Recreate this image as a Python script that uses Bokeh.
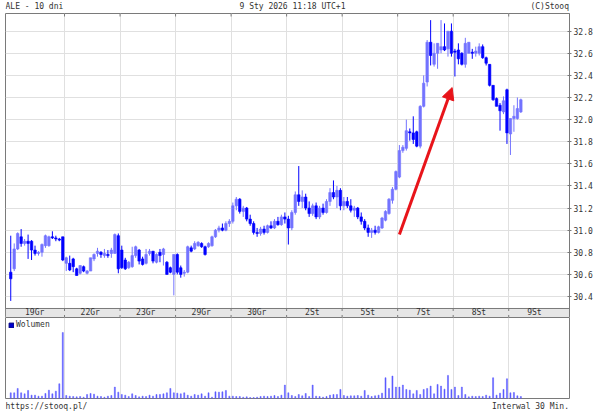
from bokeh.plotting import figure
from bokeh.models import (ColumnDataSource, Range1d, LinearAxis, FixedTicker, Grid,
                          Arrow, NormalHead, Legend, LegendItem, PrintfTickFormatter)
from bokeh.layouts import column
from bokeh.embed import file_html
from bokeh.resources import INLINE
from bokeh.core.properties import value

FONT = "DejaVu Sans Mono"
TXT = "#333333"
FRAME = "#7a7a7a"
GRIDC = "#e0e0e0"
UP = "#7373ff"
DOWN = "#0000ff"
VOLC = "#5a5aff"
RED = "#e8141a"

title_left = "ALE - 10 dni"
title_mid = "9 Sty 2026 11:18 UTC+1"
title_right = "(C)Stooq"
footer_left = "https://stooq.pl/"
footer_right = "Interwal 30 Min."
volume_label = "Wolumen"

day_labels = ["19Gr", "22Gr", "23Gr", "29Gr", "30Gr", "2St", "5St", "7St", "8St", "9St"]
bars_per_day = [16, 16, 16, 16, 16, 16, 16, 16, 16, 4]
price_ticks = [30.4, 30.6, 30.8, 31.0, 31.2, 31.4, 31.6, 31.8, 32.0, 32.2, 32.4, 32.6, 32.8]

open_ = [
    30.62, 30.65, 30.83, 30.94, 30.88, 30.90, 30.90, 30.82, 30.79, 30.80, 30.86, 30.86, 30.94, 30.93, 30.92, 30.94,
    30.70, 30.70, 30.74, 30.65, 30.61, 30.67, 30.61, 30.63, 30.74, 30.79, 30.80, 30.77, 30.78, 30.79, 30.79, 30.95,
    30.82, 30.73, 30.66, 30.67, 30.77, 30.82, 30.74, 30.70, 30.79, 30.81, 30.71, 30.80, 30.78, 30.71, 30.66, 30.60,
    30.78, 30.66, 30.61, 30.62, 30.84, 30.83, 30.86, 30.88, 30.85, 30.85, 30.86, 30.94, 31.00, 31.02, 31.00, 31.06,
    31.08, 31.22, 31.28, 31.17, 31.20, 31.10, 31.06, 30.98, 30.97, 31.01, 30.98, 31.04, 31.02, 31.08, 31.05, 31.12,
    31.10, 31.02, 31.16, 31.32, 31.26, 31.30, 31.20, 31.15, 31.22, 31.12, 31.20, 31.16, 31.26, 31.34, 31.30, 31.36,
    31.22, 31.26, 31.22, 31.18, 31.20, 31.12, 31.08, 31.02, 30.98, 31.00, 30.98, 31.02, 31.09, 31.15, 31.27, 31.37,
    31.48, 31.72, 31.74, 31.89, 31.88, 31.89, 31.76, 32.12, 32.34, 32.70, 32.50, 32.60, 32.63, 32.66, 32.64, 32.80,
    32.62, 32.63, 32.60, 32.50, 32.60, 32.61, 32.60, 32.60, 32.66, 32.56, 32.50, 32.31, 32.19, 32.13, 32.07, 32.27,
    31.87, 32.01, 32.01, 32.07]
high = [
    30.95, 30.88, 30.98, 31.01, 30.92, 30.96, 30.91, 30.86, 30.81, 30.88, 30.96, 30.95, 30.99, 30.95, 30.93, 30.94,
    30.76, 30.77, 30.75, 30.66, 30.68, 30.68, 30.64, 30.75, 30.79, 30.84, 30.81, 30.83, 30.82, 30.84, 30.97, 30.97,
    30.86, 30.75, 30.72, 30.85, 30.86, 30.83, 30.76, 30.83, 30.83, 30.81, 30.79, 30.83, 30.84, 30.72, 30.67, 30.78,
    30.79, 30.68, 30.64, 30.86, 30.86, 30.90, 30.90, 30.89, 30.86, 30.89, 30.95, 31.01, 31.04, 31.06, 31.08, 31.10,
    31.25, 31.30, 31.29, 31.22, 31.21, 31.14, 31.08, 31.02, 31.03, 31.04, 31.05, 31.08, 31.10, 31.12, 31.14, 31.16,
    31.13, 31.18, 31.35, 31.58, 31.36, 31.33, 31.26, 31.24, 31.25, 31.22, 31.24, 31.28, 31.38, 31.45, 31.40, 31.38,
    31.30, 31.30, 31.28, 31.22, 31.21, 31.16, 31.10, 31.05, 31.02, 31.04, 31.04, 31.12, 31.18, 31.29, 31.39, 31.54,
    31.77, 31.77, 32.00, 31.92, 32.03, 31.90, 32.13, 32.40, 32.72, 32.90, 32.69, 32.69, 32.90, 32.87, 32.80, 32.87,
    32.64, 32.69, 32.61, 32.74, 32.70, 32.64, 32.66, 32.69, 32.68, 32.57, 32.50, 32.31, 32.20, 32.15, 32.21, 32.28,
    32.01, 32.13, 32.20, 32.19]
low = [
    30.36, 30.63, 30.82, 30.85, 30.86, 30.74, 30.73, 30.77, 30.77, 30.76, 30.84, 30.85, 30.92, 30.90, 30.90, 30.72,
    30.63, 30.63, 30.62, 30.59, 30.60, 30.62, 30.60, 30.63, 30.72, 30.76, 30.75, 30.75, 30.75, 30.75, 30.79, 30.61,
    30.65, 30.64, 30.65, 30.66, 30.75, 30.69, 30.68, 30.69, 30.77, 30.70, 30.70, 30.71, 30.68, 30.60, 30.61, 30.41,
    30.60, 30.57, 30.58, 30.61, 30.80, 30.82, 30.85, 30.84, 30.77, 30.84, 30.85, 30.93, 30.98, 30.99, 30.99, 31.03,
    31.06, 31.18, 31.15, 31.12, 31.08, 31.04, 30.96, 30.94, 30.95, 30.96, 30.97, 31.01, 31.01, 31.04, 31.04, 31.06,
    30.87, 31.00, 31.14, 31.22, 31.20, 31.18, 31.12, 31.13, 31.10, 31.10, 31.14, 31.15, 31.22, 31.28, 31.20, 31.18,
    31.18, 31.20, 31.16, 31.12, 31.10, 31.05, 31.00, 30.94, 30.93, 30.96, 30.97, 31.01, 31.08, 31.14, 31.24, 31.36,
    31.47, 31.70, 31.72, 31.81, 31.78, 31.75, 31.74, 32.11, 32.30, 32.49, 32.48, 32.46, 32.60, 32.62, 32.57, 32.57,
    32.39, 32.50, 32.49, 32.47, 32.60, 32.55, 32.57, 32.58, 32.55, 32.49, 32.30, 32.17, 32.12, 31.90, 32.05, 31.78,
    31.68, 31.89, 32.00, 32.06]
close_ = [
    30.56, 30.83, 30.97, 30.88, 30.90, 30.88, 30.82, 30.79, 30.80, 30.87, 30.95, 30.94, 30.93, 30.92, 30.91, 30.73,
    30.75, 30.64, 30.67, 30.59, 30.68, 30.63, 30.63, 30.75, 30.78, 30.81, 30.78, 30.79, 30.77, 30.82, 30.96, 30.65,
    30.66, 30.65, 30.71, 30.77, 30.85, 30.72, 30.69, 30.78, 30.81, 30.72, 30.78, 30.77, 30.83, 30.60, 30.62, 30.78,
    30.62, 30.60, 30.62, 30.85, 30.81, 30.88, 30.89, 30.85, 30.78, 30.88, 30.94, 31.00, 31.02, 31.00, 31.06, 31.08,
    31.22, 31.28, 31.17, 31.20, 31.10, 31.06, 30.98, 30.97, 31.01, 30.98, 31.04, 31.02, 31.08, 31.05, 31.12, 31.10,
    31.02, 31.16, 31.32, 31.26, 31.30, 31.20, 31.15, 31.22, 31.12, 31.20, 31.16, 31.26, 31.34, 31.30, 31.36, 31.22,
    31.26, 31.22, 31.18, 31.20, 31.12, 31.08, 31.02, 30.98, 31.00, 30.98, 31.03, 31.11, 31.17, 31.28, 31.37, 31.53,
    31.72, 31.75, 31.90, 31.88, 31.82, 31.76, 32.12, 32.33, 32.70, 32.58, 32.60, 32.69, 32.66, 32.63, 32.80, 32.60,
    32.61, 32.55, 32.50, 32.69, 32.70, 32.60, 32.62, 32.66, 32.56, 32.51, 32.31, 32.18, 32.12, 32.08, 32.17, 31.88,
    32.01, 32.03, 32.10, 32.18]
volume = [
    17, 17, 30, 17, 14, 24, 10, 10, 7, 7, 15, 25, 14, 22, 44, 197,
    9, 7, 6, 5, 6, 4, 12, 15, 13, 7, 6, 4, 7, 9, 34, 19,
    12, 10, 6, 14, 9, 5, 7, 6, 10, 7, 12, 12, 14, 17, 30, 17,
    16, 14, 17, 10, 7, 12, 10, 14, 7, 17, 4, 20, 19, 20, 24, 7,
    7, 6, 6, 4, 5, 3, 3, 4, 6, 7, 6, 7, 9, 6, 10, 40,
    17, 9, 6, 12, 8, 15, 6, 40, 7, 6, 4, 6, 10, 12, 12, 27,
    9, 7, 8, 8, 9, 7, 24, 10, 6, 8, 10, 16, 62, 30, 67, 34,
    34, 40, 27, 25, 14, 24, 12, 27, 30, 37, 14, 42, 37, 28, 69, 27,
    34, 9, 34, 12, 5, 7, 6, 7, 6, 10, 7, 62, 10, 16, 27, 59,
    17, 18, 8, 6]

# annotation (red arrow), in bar-index / price units
arrow_start = (112.0, 30.96)
arrow_end = (127.2, 32.29)

n = len(close_)
x = list(range(n))
seps = []
acc = 0
for k in bars_per_day[:-1]:
    acc += k
    seps.append(acc - 0.5)
day_starts = [0] + [s + 0.5 for s in seps]
label_x = [s + 6.9 for s in day_starts]

W = 605
LB, RB = 5, 36
X_LO, X_HI = -1.51, 161.02
Y_TOP, P_BOT = 32.960, 30.2914
PPU = 110.54
STRIP_BOT = P_BOT - 9 / PPU


def blank(h, xr=None, yr=None, **kw):
    f = figure(width=W, height=h, x_range=xr, y_range=yr, x_axis_type=None, y_axis_type=None,
               output_backend="svg", toolbar_location=None, background_fill_color="white",
               border_fill_color="white", **kw)
    f.grid.visible = False
    return f


# ---- title row (frame aligned with the panels below: x in page pixels)
p0 = blank(12, Range1d(LB, W - RB), Range1d(0, 12), min_border_left=LB, min_border_right=RB,
           min_border_top=0, min_border_bottom=0, outline_line_color=None)
p0.text(x=[LB, 292, W - RB - 0.5], y=[6.4, 6.4, 6.4], text=[title_left, title_mid, title_right],
        text_align=["left", "center", "right"], text_baseline="middle",
        text_font=value(FONT), text_font_size="8px", text_color=TXT)

# ---- price panel
p1 = blank(305, Range1d(X_LO, X_HI), Range1d(STRIP_BOT, Y_TOP),
           min_border_left=LB, min_border_right=RB, min_border_top=1, min_border_bottom=0,
           outline_line_color=FRAME)
p1.add_layout(Grid(dimension=1, ticker=FixedTicker(ticks=price_ticks), grid_line_color=GRIDC))
p1.add_layout(Grid(dimension=0, ticker=FixedTicker(ticks=seps), grid_line_color=GRIDC))
yax = LinearAxis(ticker=FixedTicker(ticks=price_ticks), formatter=PrintfTickFormatter(format="%.1f"),
                 axis_line_color=FRAME, major_tick_line_color=FRAME, major_tick_in=2, major_tick_out=2,
                 minor_tick_line_color=None, major_label_standoff=2,
                 major_label_text_font=FONT, major_label_text_font_size="8px", major_label_text_color=TXT)
p1.add_layout(yax, "right")

colors = [UP if c >= o else DOWN for o, c in zip(open_, close_)]
src = ColumnDataSource(dict(x=x, o=open_, h=high, l=low, c=close_,
                            top=[max(o, c) for o, c in zip(open_, close_)],
                            bot=[min(o, c) for o, c in zip(open_, close_)], color=colors))
p1.segment(x0="x", y0="l", x1="x", y1="h", line_color="color", line_width=1, source=src)
p1.vbar(x="x", width=0.72, top="top", bottom="bot", fill_color="color", line_color="color",
        line_width=0.6, source=src)

# date strip
p1.quad(left=[X_LO], right=[X_HI], bottom=[STRIP_BOT], top=[P_BOT], fill_color="#e6e6e6",
        line_color=FRAME, line_width=1)
t2 = 2.5 / PPU
p1.segment(x0=seps, x1=seps, y0=[P_BOT] * len(seps), y1=[P_BOT - t2] * len(seps), line_color=FRAME)
p1.segment(x0=seps, x1=seps, y0=[STRIP_BOT] * len(seps), y1=[STRIP_BOT + t2] * len(seps), line_color=FRAME)
p1.segment(x0=seps, x1=seps, y0=[Y_TOP] * len(seps), y1=[Y_TOP - 3 / PPU] * len(seps), line_color=FRAME)
p1.text(x=label_x, y=[(P_BOT + STRIP_BOT) / 2] * len(label_x), text=day_labels,
        text_align="center", text_baseline="middle", text_font=value(FONT),
        text_font_size="8px", text_color=TXT)

p1.add_layout(Arrow(end=NormalHead(size=12, fill_color=RED, line_color=RED, line_width=1),
                    x_start=arrow_start[0], y_start=arrow_start[1],
                    x_end=arrow_end[0], y_end=arrow_end[1], line_color=RED, line_width=3))

# ---- volume panel
VMAX = 242
p2 = blank(82, p1.x_range, Range1d(0, VMAX),
           min_border_left=LB, min_border_right=RB, min_border_top=0, min_border_bottom=1,
           outline_line_color=FRAME)
p2.add_layout(Grid(dimension=0, ticker=FixedTicker(ticks=seps), grid_line_color=GRIDC))
p2.vbar(x=x, top=volume, width=0.3, fill_color=VOLC, line_color=VOLC, line_width=0.5)
r_leg = p2.quad(left=[X_LO - 20], right=[X_LO - 19], top=[1], bottom=[0],
                fill_color="#0000cc", line_color="#000080")
p2.add_layout(Legend(items=[LegendItem(label=volume_label, renderers=[r_leg])], location="top_left",
                     border_line_alpha=0, background_fill_alpha=0, padding=0, margin=3,
                     glyph_width=6, glyph_height=6, label_standoff=2, label_text_font=FONT,
                     label_text_font_size="8px", label_text_color=TXT, label_height=7, spacing=0))

# ---- footer row
p3 = blank(15, Range1d(LB, W - RB), Range1d(0, 15), min_border_left=LB, min_border_right=RB,
           min_border_top=0, min_border_bottom=0, outline_line_color=None)
p3.text(x=[LB, W - RB - 0.5], y=[8.5, 8.5], text=[footer_left, footer_right],
        text_align=["left", "right"], text_baseline="middle",
        text_font=value(FONT), text_font_size="8px", text_color=TXT)

layout = column(p0, p1, p2, p3, spacing=0)
open("out.html", "w").write(file_html(layout, INLINE))
